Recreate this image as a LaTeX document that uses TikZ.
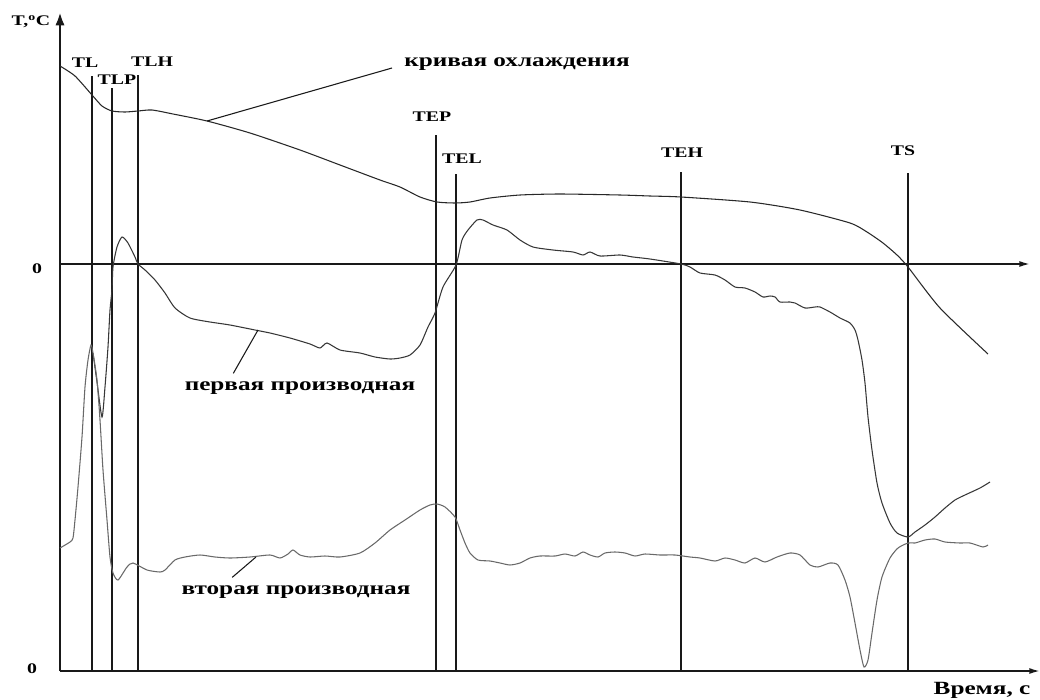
\documentclass[tikz,border=0pt]{standalone}
\usepackage{fontspec}
\setmainfont{Liberation Serif}[FakeStretch=1.35]
\usetikzlibrary{arrows.meta, positioning, calc}
\definecolor{axiscolor}{RGB}{25,25,25}
\definecolor{coolcolor}{RGB}{40,40,40}
\definecolor{firstcolor}{RGB}{55,55,55}
\definecolor{secondcolor}{RGB}{105,105,105}

\begin{document}
\begin{tikzpicture}[
    x=0.75pt, y=-0.75pt,
    axis/.style={line width=1.3pt, axiscolor, -{Latex[length=8pt, width=4.5pt]}},
    markline/.style={line width=1pt, axiscolor},
    curve/.style={line width=0.8pt, smooth, tension=0.4},
    tlabel/.style={font=\bfseries\fontsize{11}{13}\selectfont, inner sep=1pt},
    clabel/.style={font=\bfseries\fontsize{14}{16}\selectfont, inner sep=6pt},
    leader/.style={line width=0.8pt, axiscolor}
]
    \useasboundingbox (0,0) rectangle (1040,700);

    \coordinate (origin) at (60,671);
    \coordinate (ytop) at (60,12);
    \coordinate (zero) at (60,264);
    \coordinate (zend) at (1030,264);
    \coordinate (xend) at (1040,671);

    \draw[axis, line width=2.2pt, -{Latex[length=10pt, width=7pt]}] (origin) -- (ytop);
    \draw[axis] (zero) -- (zend);
    \draw[axis] (origin) -- (xend);

    \node[tlabel] (tc) at (31,22) {T,\textsuperscript{o}C};
    \node[tlabel] (zlab) at (37,269) {0};
    \node[tlabel] (olab) at (32,669) {0};
    \node[clabel, inner sep=1pt] (time) at (982,690) {Время, с};

    \node[tlabel] (tl) at (85,63) {TL};
    \node[tlabel] (tlp) at (117,80) {TLP};
    \node[tlabel] (tlh) at (152,62) {TLH};
    \node[tlabel] (tep) at (432,117) {TEP};
    \node[tlabel] (tel) at (462,159) {TEL};
    \node[tlabel] (teh) at (682,153) {TEH};
    \node[tlabel] (ts) at (903,151) {TS};

    \foreach \x/\y/\n in {92/76/tl, 112/88/tlp, 138/75/tlh, 436/135/tep, 456/174/tel, 681/172/teh, 908/173/ts}{
        \coordinate (\n top) at (\x,\y);
        \draw[markline] (\n top) -- (\n top |- origin);
    }

    \draw[curve, coolcolor] plot coordinates {(60,66) (75,76) (92,95) (102,106) (112,111) (125,112) (138,111) (152,110) (173,114) (207,121) (250,133) (300,150) (340,165) (380,180) (400,187) (420,197) (437,202) (455,203) (470,202) (490,198) (520,195) (560,194) (620,195) (650,196) (681,197) (750,202) (800,210) (850,223) (867,232) (883,243) (897,255) (908,267) (940,308) (988,354)};

    \draw[curve, firstcolor] plot coordinates {(93,353) (97,382) (102,417) (105,387) (108,347) (110,310) (112,290) (113,267) (117,247) (122,237) (128,243) (135,257) (138,264) (145,270) (155,280) (165,293) (175,308) (190,318) (210,322) (230,325) (255,330) (270,333) (290,338) (310,344) (320,348) (327,343) (340,350) (360,353) (375,357) (390,359) (400,358) (410,355) (420,345) (428,327) (435,313) (443,287) (456,265) (462,240) (468,230) (477,220) (483,220) (493,225) (507,230) (520,240) (533,247) (553,250) (573,252) (583,255) (590,252) (600,256) (620,255) (633,257) (650,259) (681,264) (690,267) (700,273) (715,275) (725,280) (735,287) (745,288) (755,292) (763,297) (770,296) (775,297) (780,302) (790,302) (795,303) (805,308) (815,307) (820,307) (830,312) (840,318) (850,323) (855,330) (858,340) (862,360) (865,383) (868,417) (872,450) (877,483) (882,503) (890,523) (897,533) (908,537) (915,532) (925,525) (935,517) (945,508) (955,500) (965,495) (980,488) (990,482)};

    \draw[curve, secondcolor] plot coordinates {(60,548) (70,542) (73,538) (75,520) (78,487) (82,437) (85,387) (88,360) (91,345) (93,353) (97,380) (100,420) (103,470) (107,520) (110,557) (113,573) (118,580) (127,567) (133,563) (147,570) (160,572) (165,570) (175,560) (185,557) (200,555) (215,557) (230,558) (250,557) (270,555) (280,558) (288,554) (293,550) (300,555) (310,557) (325,556) (340,557) (360,553) (375,543) (390,530) (405,520) (420,510) (430,505) (437,504) (445,507) (455,517) (460,530) (465,543) (470,553) (478,560) (490,561) (500,563) (510,565) (520,563) (530,558) (540,556) (555,556) (565,554) (575,556) (583,552) (590,555) (598,557) (605,553) (615,552) (625,553) (635,556) (645,554) (660,555) (675,555) (690,557) (700,558) (715,561) (725,558) (735,560) (745,563) (755,558) (765,562) (777,557) (790,553) (800,555) (810,565) (818,567) (830,563) (838,565) (845,580) (850,597) (855,623) (860,650) (864,667) (868,660) (872,633) (877,600) (882,577) (890,558) (898,548) (908,543) (915,543) (925,540) (935,539) (945,542) (960,543) (970,543) (983,547) (988,545)};

    \node[clabel] (cooltxt) at (517,64) {кривая охлаждения};
    \node[clabel] (firsttxt) at (300,388) {первая производная};
    \node[clabel] (secondtxt) at (296,592) {вторая производная};

    \coordinate (coolpt) at (207,121);
    \coordinate (firstpt) at (258,330);
    \coordinate (secondpt) at (256,557);

    \draw[leader] ($(cooltxt.west)+(-4,4)$) -- (coolpt);
    \draw[leader] ($(firsttxt.north west)!0.23!(firsttxt.north east)$) -- (firstpt);
    \draw[leader] ($(secondtxt.north west)!0.24!(secondtxt.north east)$) -- (secondpt);
\end{tikzpicture}
\end{document}
